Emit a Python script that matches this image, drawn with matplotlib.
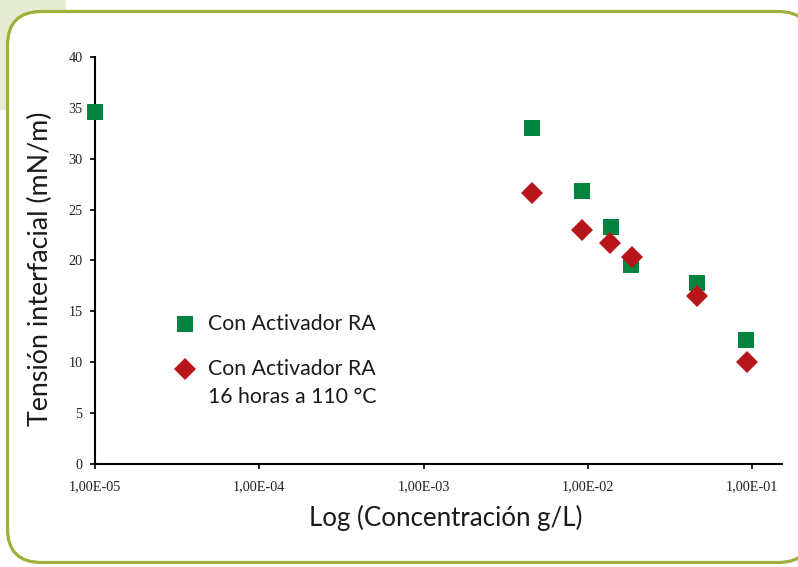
import matplotlib
matplotlib.use("Agg")
import matplotlib.pyplot as plt
from matplotlib.patches import FancyBboxPatch, Rectangle
from matplotlib.lines import Line2D
from matplotlib.ticker import FixedLocator, FixedFormatter, NullLocator

# Data
conc_a = [1.0e-5, 4.6e-3, 9.2e-3, 1.39e-2, 1.83e-2, 4.62e-2, 9.2e-2]
tens_a = [34.6, 33.0, 26.8, 23.3, 19.6, 17.8, 12.2]
conc_b = [4.6e-3, 9.2e-3, 1.37e-2, 1.85e-2, 4.65e-2, 9.3e-2]
tens_b = [26.6, 23.0, 21.7, 20.3, 16.5, 10.0]
label_a = "Con Activador RA"
label_b = ["Con Activador RA", "16 horas a 110 °C"]
xticks = [1e-5, 1e-4, 1e-3, 1e-2, 1e-1]
xticklabels = ["1,00E-05", "1,00E-04", "1,00E-03", "1,00E-02", "1,00E-01"]
yticks = [0, 5, 10, 15, 20, 25, 30, 35, 40]

GREEN = "#00843f"
RED = "#b8151b"
OLIVE = "#9db03a"

fig = plt.figure(figsize=(7.98, 5.67), dpi=100)

# background decoration
fig.add_artist(Rectangle((0, 5.67 - 1.1), 0.66, 1.1, transform=fig.dpi_scale_trans,
                         facecolor="#e6ebd3", edgecolor="none", zorder=-3))
box = FancyBboxPatch((0.075, 0.045), 8.045, 5.51, boxstyle="round,pad=0,rounding_size=0.34",
                     transform=fig.dpi_scale_trans, facecolor="white", edgecolor=OLIVE,
                     linewidth=2.3, zorder=-2)
fig.add_artist(box)

ax = fig.add_axes([95 / 798, 103 / 567, (782 - 95) / 798, (464 - 57) / 567])
ax.set_facecolor("none")
ax.set_zorder(1)
ax.set_xscale("log")
ax.set_xlim(1e-5, 0.152)
ax.set_ylim(0, 40)

ax.plot(conc_a, tens_a, linestyle="none", marker="s", markersize=12.2,
        markerfacecolor=GREEN, markeredgewidth=0, clip_on=False, zorder=3)
ax.plot(conc_b, tens_b, linestyle="none", marker="D", markersize=11.4,
        markerfacecolor=RED, markeredgewidth=0, clip_on=False, zorder=4)

for s in ["top", "right"]:
    ax.spines[s].set_visible(False)
for s in ["left", "bottom"]:
    ax.spines[s].set_linewidth(1.5)

ax.xaxis.set_major_locator(FixedLocator(xticks))
ax.xaxis.set_major_formatter(FixedFormatter(xticklabels))
ax.xaxis.set_minor_locator(NullLocator())
ax.set_yticks(yticks)
ax.tick_params(axis="both", direction="out", length=3.5, width=1.2,
               labelsize=10.3, colors="black")
ax.tick_params(axis="x", pad=8.5)
ax.tick_params(axis="y", pad=5.5)
for lab in ax.get_xticklabels() + ax.get_yticklabels():
    lab.set_fontfamily("Liberation Serif")
    lab.set_color("#222222")

sans = "Lato"
fig.text(40 / 798, 1 - 269 / 567, "Tensión interfacial (mN/m)", rotation=90,
         ha="center", va="center", fontsize=19.3, family=sans, color="#1a1a1a")
fig.text(446 / 798, 1 - 518 / 567, "Log (Concentración g/L)",
         ha="center", va="center", fontsize=18.6, family=sans, color="#1a1a1a")

# legend
fig.add_artist(Line2D([185 / 798], [1 - 324 / 567], marker="s", markersize=12,
                      markerfacecolor=GREEN, markeredgewidth=0, linestyle="none",
                      transform=fig.transFigure))
fig.add_artist(Line2D([185 / 798], [1 - 369 / 567], marker="D", markersize=11,
                      markerfacecolor=RED, markeredgewidth=0, linestyle="none",
                      transform=fig.transFigure))
fs_leg = 15.3
fig.text(208 / 798, 1 - 324 / 567, label_a, ha="left", va="center",
         fontsize=fs_leg, family=sans, color="#1a1a1a")
fig.text(208 / 798, 1 - 369 / 567, label_b[0], ha="left", va="center",
         fontsize=fs_leg, family=sans, color="#1a1a1a")
fig.text(208 / 798, 1 - 397 / 567, label_b[1], ha="left", va="center",
         fontsize=fs_leg, family=sans, color="#1a1a1a")

fig.savefig("out.png", dpi=100)
